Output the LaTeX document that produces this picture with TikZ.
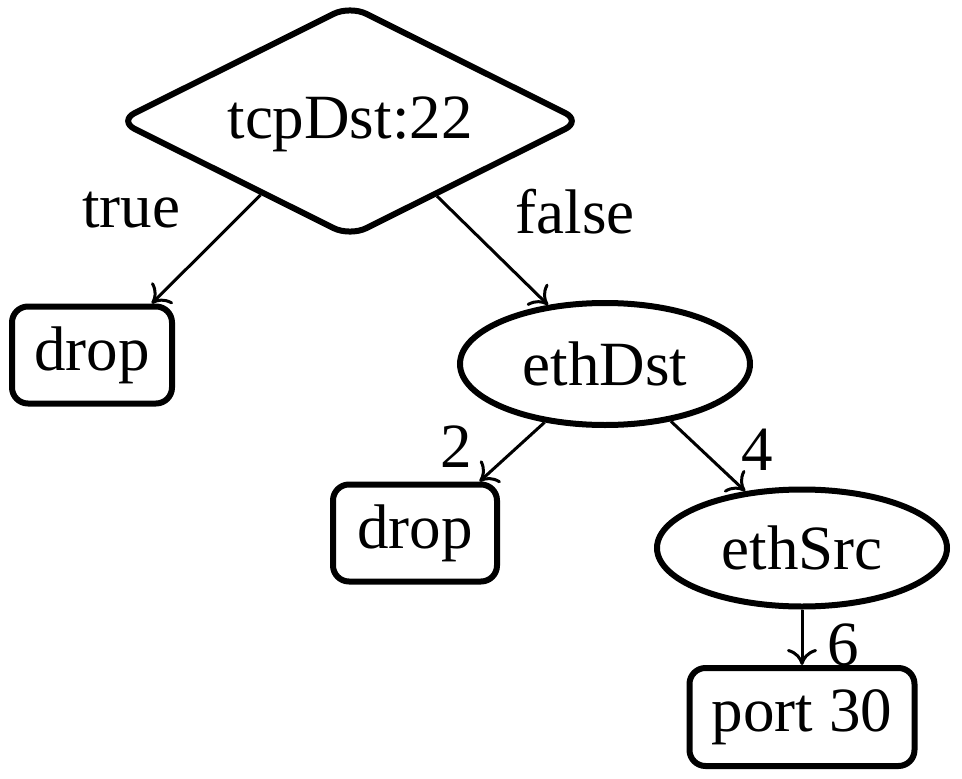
\documentclass[tikz,border=0pt]{standalone}
\usepackage{fontspec}
\setmainfont{Liberation Serif}
\usetikzlibrary{shapes.geometric,arrows.meta,calc}
\begin{document}
\begin{tikzpicture}[x=1pt,y=-1pt,
  every node/.style={font=\fontsize{63}{68}\selectfont, inner sep=0pt},
  box/.style={draw, line width=6pt, rounded corners=16pt, rectangle},
  oval/.style={draw, line width=6pt, ellipse},
  dec/.style={draw, line width=6pt, diamond, rounded corners=18pt},
  edge/.style={line width=3pt, -{To[length=16pt,width=30pt,line width=3pt]}},
  lab/.style={}]
\useasboundingbox (0,0) rectangle (962,779);
\node[dec, minimum width=465pt, minimum height=233pt] (d) at (350,121) {};
\node (dt) at (350,124) {tcpDst:22};
\node[box, minimum width=160pt, minimum height=97pt] (drop1) at (92,355) {drop};
\node[oval, minimum width=290pt, minimum height=122pt] (e1) at (605,364) {ethDst};
\node[box, minimum width=164pt, minimum height=97pt] (drop2) at (415,533) {drop};
\node[oval, minimum width=290pt, minimum height=117pt] (e2) at (802,548) {ethSrc};
\node[box, minimum width=225pt, minimum height=98pt] (port) at (802,717) {port 30};
\draw[edge] ($(d.south)!0.38!(d.west)$) -- ($(drop1.north west)!0.86!(drop1.north east)$);
\draw[edge] ($(d.south)!0.37!(d.east)$) -- (e1.134);
\draw[edge] (e1.-136) -- ($(drop2.north west)!0.88!(drop2.north east)$);
\draw[edge] (e1.-41) -- (e2.135);
\draw[edge] (e2.south) -- (port.north);
\node[lab] (ltrue) at (131,210) {true};
\node[lab] (lfalse) at (575,212) {false};
\node[lab] (l2) at (456,447) {2};
\node[lab] (l4) at (757,450) {4};
\node[lab] (l6) at (843,645) {6};
\end{tikzpicture}
\end{document}
